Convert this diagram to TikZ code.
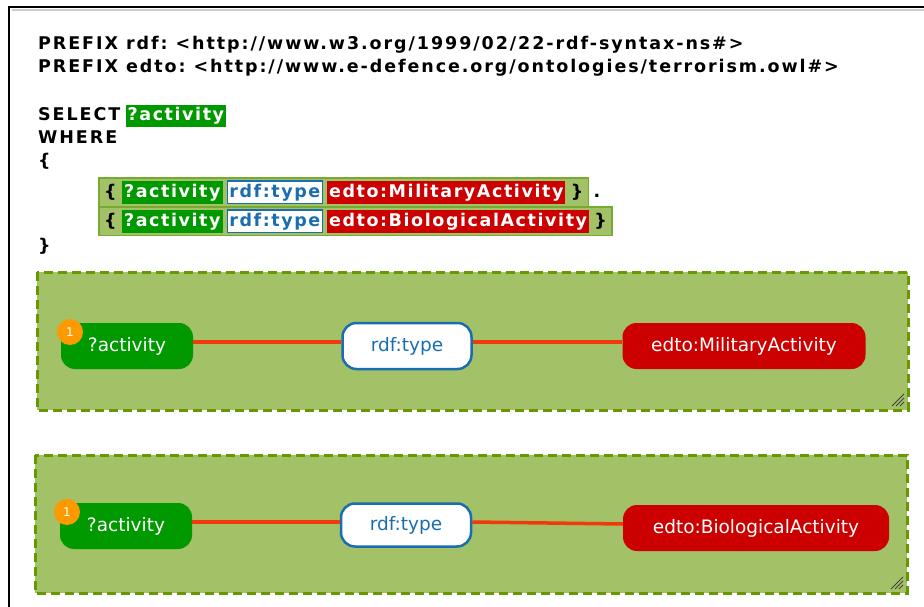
\documentclass[tikz,border=0pt]{standalone}
\usepackage{fontspec}
\setmainfont{DejaVu Sans}
\newfontfamily\queryfont[LetterSpace=11]{DejaVu Sans}
\newfontfamily\chipfont[LetterSpace=9]{DejaVu Sans}
\usetikzlibrary{positioning,fit,backgrounds}
\definecolor{chipgreen}{HTML}{009900}
\definecolor{chipred}{HTML}{CC0000}
\definecolor{chipblue}{HTML}{1A6EB0}
\definecolor{groupfill}{HTML}{A3C167}
\definecolor{groupline}{HTML}{669900}
\definecolor{rowline}{HTML}{77AA33}
\definecolor{linkred}{HTML}{F03A0A}
\definecolor{badge}{HTML}{FF9900}
\newcommand{\codefont}{\queryfont\fontsize{17.5}{20}\selectfont\bfseries}
\newcommand{\tagfont}{\chipfont\fontsize{17.5}{20}\selectfont\bfseries}

\begin{document}
\frenchspacing
\begin{tikzpicture}[x=1pt,y=-1pt,
    codeline/.style={anchor=base west,inner sep=0pt,font=\codefont},
    chip/.style={font=\tagfont,inner xsep=2pt,inner ysep=3pt,text height=13pt,text depth=3.5pt},
    varchip/.style={chip,fill=chipgreen,text=white},
    propchip/.style={chip,fill=white,draw=chipblue,line width=1.2pt,text=chipblue},
    classchip/.style={chip,fill=chipred,text=white},
    rowbox/.style={fill=groupfill,draw=rowline,line width=1.5pt,inner xsep=5pt,inner ysep=3pt},
    groupbox/.style={fill=groupfill,draw=groupline,line width=3pt,dash pattern=on 9pt off 5pt},
    termbox/.style={rounded corners=14pt,minimum height=46pt,font=\fontsize{18.5}{20}\selectfont},
    varterm/.style={termbox,fill=chipgreen,text=white},
    propterm/.style={termbox,fill=white,draw=chipblue,line width=2.5pt,text=chipblue},
    classterm/.style={termbox,fill=chipred,text=white},
    link/.style={linkred,line width=3.5pt},
    badgenode/.style={circle,fill=badge,text=white,minimum size=26pt,inner sep=0pt,font=\fontsize{12}{12}\selectfont}]
    \useasboundingbox (0,0) rectangle (924,607);

    % frame
    \draw[black!20,line width=1.5pt] (12,10) -- (924,10);
    \draw[line width=2.5pt] (9,607) -- (9,7) -- (924,7);

    % query text
    \node[codeline] (pfx1) at (38,50) {PREFIX rdf: <http://www.w3.org/1999/02/22-rdf-syntax-ns\#>};
    \node[codeline] (pfx2) at (38,73) {PREFIX edto: <http://www.e-defence.org/ontologies/terrorism.owl\#>};
    \node[codeline] (select) at (38,121) {SELECT};
    \node[varchip,base right=5pt of select] (selvar) {?activity};
    \node[codeline] (where) at (38,144) {WHERE};
    \node[codeline] (open) at (38,167) {\{};
    \node[codeline] (close) at (38,251) {\}};

    % triple rows
    \node[codeline] (ob1) at (104,197) {\{};
    \node[varchip,base right=5pt of ob1] (v1) {?activity};
    \node[propchip,base right=4pt of v1] (p1) {rdf:type};
    \node[classchip,base right=4pt of p1] (c1) {edto:MilitaryActivity};
    \node[codeline,base right=5pt of c1] (cb1) {\}};

    \node[codeline] (ob2) at (104,226) {\{};
    \node[varchip,base right=5pt of ob2] (v2) {?activity};
    \node[propchip,base right=4pt of v2] (p2) {rdf:type};
    \node[classchip,base right=4pt of p2] (c2) {edto:BiologicalActivity};
    \node[codeline,base right=5pt of c2] (cb2) {\}};

    \begin{scope}[on background layer]
        \node[rowbox,fit=(ob1)(v1)(cb1)] (row1) {};
        \node[rowbox,fit=(ob2)(v2)(cb2)] (row2) {};
    \end{scope}
    \node[codeline,base right=10pt of cb1] (dot1) {.};

    % graph panes
    \draw[groupbox] (37,272) rectangle (908,410);
    \draw[groupbox] (35,455) rectangle (907,593);
    \foreach \k in {4,8,12} {
        \draw[black!75,line width=0.8pt] (904,406-\k) -- (904-\k,406);
        \draw[black!75,line width=0.8pt] (903,589-\k) -- (903-\k,589);
    }

    \node[varterm,minimum width=132pt] (act1) at (127,346) {?activity};
    \node[propterm,minimum width=129pt] (type1) at (407,346) {rdf:type};
    \node[classterm,minimum width=243pt] (cls1) at (744,346) {edto:MilitaryActivity};
    \draw[link] ([yshift=4pt]act1.east) -- ([yshift=4pt]type1.west);
    \draw[link] ([yshift=4pt]type1.east) -- ([yshift=4pt]cls1.west);
    \node[badgenode] (n1) at (70,332) {1};

    \node[varterm,minimum width=132pt] (act2) at (126,526) {?activity};
    \node[propterm,minimum width=130pt,minimum height=43pt] (type2) at (406,525) {rdf:type};
    \node[classterm,minimum width=266pt] (cls2) at (756,528) {edto:BiologicalActivity};
    \draw[link] ([yshift=4pt]act2.east) -- ([yshift=3pt]type2.west);
    \draw[link] ([yshift=3pt]type2.east) -- ([yshift=4pt]cls2.west);
    \node[badgenode] (n2) at (67,512) {1};
\end{tikzpicture}
\end{document}
